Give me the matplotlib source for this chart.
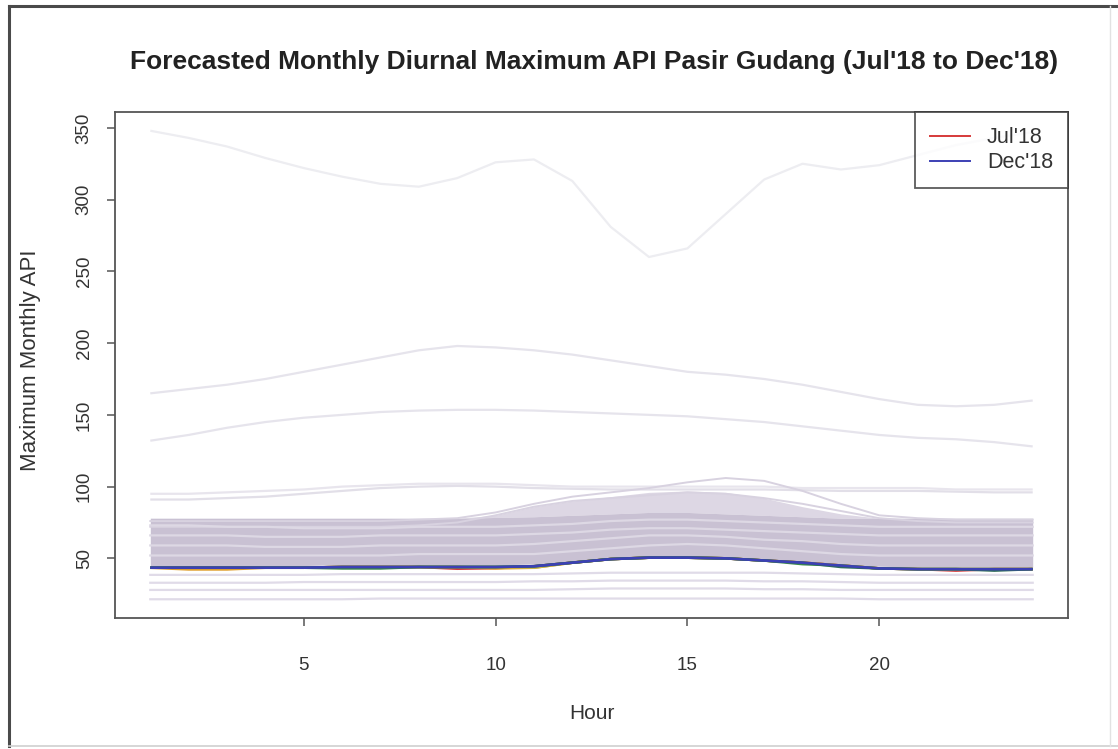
import numpy as np
import matplotlib
matplotlib.use("Agg")
import matplotlib.pyplot as plt
from matplotlib.lines import Line2D

plt.rcParams['font.family'] = ['Liberation Sans', 'DejaVu Sans']

hours = list(range(1, 25))

# Historical diurnal maxima (faint background curves)
hist_high_1 = [348, 343, 337, 329, 322, 316, 311, 309, 315, 326, 328, 313,
               281, 260, 266, 290, 314, 325, 321, 324, 331, 338, 343, 347]
hist_high_2 = [165, 168, 171, 175, 180, 185, 190, 195, 198, 197, 195, 192,
               188, 184, 180, 178, 175, 171, 166, 161, 157, 156, 157, 160]
hist_high_3 = [132, 136, 141, 145, 148, 150, 152, 153, 153.5, 153.5, 153, 152,
               151, 150, 149, 147, 145, 142, 139, 136, 134, 133, 131, 128]
hist_mid_1 = [91, 91, 92, 93, 95, 97, 99, 100, 100.5, 100, 99, 98.5,
              98, 98, 98, 98, 98, 97.5, 97, 97, 97, 96.5, 96, 96]
hist_mid_2 = [95, 95, 96, 97, 98, 100, 101, 102, 102, 102, 101, 100,
              100, 100, 100, 100, 100, 99, 99, 99, 99, 98, 98, 98]
hist_hump_1 = [76, 76, 76, 76, 76, 76, 76, 77, 78, 82, 88, 93,
               96, 99, 103, 106, 104, 97, 88, 80, 78, 77, 77, 77]
hist_hump_2 = [72, 72, 72, 72, 72, 72, 72, 73, 75, 80, 86, 90,
               92, 94, 96, 95, 92, 88, 83, 78, 76, 75, 75, 75]

# Envelope of the dense cluster of monthly curves
band_lo = [45, 45, 45, 45, 45, 45.5, 45.5, 45.5, 45.5, 45.5, 46, 48,
           50.5, 51.5, 51.5, 51, 49.5, 48, 46, 44.5, 44, 44, 44, 44]
band_hi = [78, 78, 78, 78, 78, 78, 78, 78, 78, 78.5, 79, 80,
           81, 82, 82, 81, 80, 79, 78, 78, 78, 78, 78, 78]
cloud_hi = [78, 78, 78, 78, 78, 78, 78, 78, 78, 80, 86, 90,
            93, 96, 97, 96, 92, 86, 81, 78, 78, 78, 78, 78]
band_in_1 = [73, 73, 72, 72, 71, 71, 71, 72, 72, 72, 73, 74,
             76, 77, 77, 76, 75, 74, 73, 72, 72, 72, 72, 72]
band_in_2 = [66, 66, 66, 65, 65, 65, 66, 66, 66, 66, 67, 68,
             70, 71, 71, 70, 69, 68, 67, 66, 66, 66, 66, 66]
band_in_3 = [59, 59, 59, 58, 58, 58, 59, 59, 59, 59, 60, 62,
             64, 66, 66, 65, 63, 62, 60, 59, 59, 59, 59, 59]
band_in_4 = [52, 52, 52, 52, 52, 52, 52, 53, 53, 53, 53, 55,
             57, 59, 60, 59, 57, 55, 53, 52, 52, 52, 52, 52]
hist_low_1 = [38.5, 38.5, 38.5, 38.5, 38.5, 39, 39, 39, 39, 39, 39, 39.5,
              40, 40, 40, 40, 40, 39.5, 39, 38.5, 38.5, 38.5, 38.5, 38.5]
hist_low_2 = [33, 33, 33, 33, 33.5, 33.5, 33.5, 33.5, 33.5, 33.5, 34, 34,
              34.5, 34.5, 34.5, 34.5, 34, 34, 33.5, 33, 33, 33, 33, 33]
hist_low_3 = [28, 28, 28, 28, 28, 28, 28, 28, 28, 28, 28, 28.5,
              29, 29, 29, 29, 28.5, 28.5, 28, 28, 28, 28, 28, 28]
hist_low_4 = [21.5, 21.5, 21.5, 21.5, 21.5, 21.5, 22, 22, 22, 22, 22, 22,
              22, 22, 22, 22, 22, 22, 22, 21.5, 21.5, 21.5, 21.5, 21.5]

# Forecast curves Jul'18 .. Dec'18
fc_jul = [43.5, 43.5, 43.5, 43.5, 43.5, 44, 44, 44, 42.8, 43.2, 44.5, 47,
          49.5, 50.5, 50.5, 50, 48.5, 47, 45, 43, 42.5, 41.5, 42.5, 42.5]
fc_aug = [43.5, 42.3, 42.3, 43.5, 43.5, 44, 44, 44, 44, 43, 43.5, 47,
          49.5, 50.5, 50.5, 50, 48.5, 47, 45, 43, 42.5, 42.5, 42.5, 42.5]
fc_sep = [43.5, 43.5, 43.5, 43.5, 43.5, 44, 44, 44, 44, 44, 43.5, 47,
          49.5, 50.5, 50.5, 50, 48.5, 47, 45, 43, 42.5, 42.5, 42.5, 42.5]
fc_oct = [43.5, 43.5, 43.5, 43.5, 43.5, 43, 43, 44, 44, 44, 44.5, 47,
          49.5, 50.5, 50.5, 50, 48.5, 46, 45, 43, 42.5, 42.5, 42.5, 42.5]
fc_nov = [43.5, 43.5, 43.5, 43.5, 43.5, 44, 44, 44, 44, 44, 44.5, 47,
          49.5, 50.5, 50.5, 50, 48.5, 47, 44, 43, 42.5, 42.5, 41.5, 42.5]
fc_dec = [43.5, 43.5, 43.5, 43.5, 43.5, 44, 44, 44, 44, 44, 44.5, 47,
          49.5, 50.5, 50.5, 50, 48.5, 47, 45, 43, 42.5, 42.5, 42.5, 42.5]

forecasts = [fc_jul, fc_aug, fc_sep, fc_oct, fc_nov, fc_dec]
fc_colors = ['#d63a3a', '#e0a030', '#c8b448', '#3c8a4c', '#2f6b5a', '#3c40b4']
legend_labels = ["Jul'18", "Dec'18"]
x_ticks = [5, 10, 15, 20]
y_ticks = [50, 100, 150, 200, 250, 300, 350]

W, H = 1118, 749
fig = plt.figure(figsize=(W / 100, H / 100), dpi=100)
fig.patch.set_facecolor('white')

# image frame
fig.add_artist(Line2D([9 / W, 9 / W], [1 - 6 / H, 1 - 746 / H], color='#4a4a4a', lw=2.2))
fig.add_artist(Line2D([9 / W, 1.0], [1 - 6 / H, 1 - 6 / H], color='#4a4a4a', lw=2.2))
fig.add_artist(Line2D([9 / W, 1.0], [1 - 746 / H, 1 - 746 / H], color='#cfcfcf', lw=1.2))
fig.add_artist(Line2D([1110 / W, 1110 / W], [1 - 6 / H, 1 - 746 / H], color='#e2e2e2', lw=1.0))

ax = fig.add_axes([115 / W, 1 - 618 / H, (1068 - 115) / W, (618 - 112) / H])

# background history
for ys, c in [(hist_high_1, '#ededf1'), (hist_high_2, '#e6e4ec'), (hist_high_3, '#e6e4ec'),
              (hist_mid_1, '#e2dfe8'), (hist_mid_2, '#e8e5ed')]:
    ax.plot(hours, ys, color=c, lw=1.6, solid_capstyle='butt')

ax.fill_between(hours, band_hi, cloud_hi, color='#ddd7e4', lw=0)
ax.fill_between(hours, band_lo, band_hi, color='#c9c1d3', lw=0)
for ys in (hist_hump_1, hist_hump_2):
    ax.plot(hours, ys, color='#d8d2e0', lw=1.4)
for ys in (band_in_1, band_in_2, band_in_3, band_in_4):
    ax.plot(hours, ys, color='#ddd8e4', lw=1.6)
for ys in (hist_low_1, hist_low_2, hist_low_3, hist_low_4):
    ax.plot(hours, ys, color='#e0dbe8', lw=1.6)

# forecasts
for ys, c in zip(forecasts, fc_colors):
    ax.plot(hours, ys, color=c, lw=1.9, solid_capstyle='butt')

# R-style 4% padding
all_vals = np.concatenate([hist_high_1, hist_low_4])
lo, hi = min(all_vals), max(all_vals)
pad = 0.04 * (hi - lo)
ax.set_ylim(lo - pad, hi + pad)
xpad = 0.04 * (hours[-1] - hours[0])
ax.set_xlim(hours[0] - xpad, hours[-1] + xpad)

ax.set_xticks(x_ticks)
ax.set_yticks(y_ticks)
ax.set_yticklabels([str(v) for v in y_ticks], rotation=90, va='center')
ax.tick_params(axis='both', direction='out', length=6, width=1.1, color='#555555',
               labelsize=13.5, labelcolor='#333333')
ax.tick_params(axis='x', pad=22)
ax.tick_params(axis='y', pad=10)
for s in ax.spines.values():
    s.set_color('#555555')
    s.set_linewidth(1.3)

ax.set_xlabel('Hour', fontsize=15, color='#333333', labelpad=22)
ax.set_ylabel('Maximum Monthly API', fontsize=16, color='#333333')
ax.yaxis.set_label_coords((41 - 115) / 953, (618 - 360) / 506)
fig.text(594 / W, 1 - 62 / H,
         "Forecasted Monthly Diurnal Maximum API Pasir Gudang (Jul'18 to Dec'18)",
         ha='center', va='center', fontsize=19, fontweight='bold', color='#222222')

handles = [Line2D([], [], color=fc_colors[0], lw=1.4), Line2D([], [], color=fc_colors[-1], lw=1.4)]
leg = ax.legend(handles, legend_labels, loc='upper right', borderaxespad=0, fontsize=15.5,
                frameon=True, fancybox=False, handlelength=1.85, handletextpad=0.8,
                borderpad=0.7, labelspacing=0.2)
leg.get_frame().set_edgecolor('#333333')
leg.get_frame().set_linewidth(1.3)
for t in leg.get_texts():
    t.set_color('#333333')

fig.savefig('out.png', dpi=100, facecolor='white')
